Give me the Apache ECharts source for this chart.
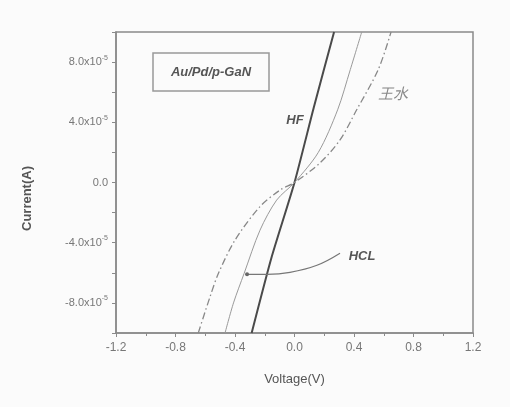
<!DOCTYPE html>
<html>
<head>
<meta charset="utf-8">
<script src="https://cdn.jsdelivr.net/npm/echarts@6/dist/echarts.min.js"></script>
<style>
html,body{margin:0;padding:0;background:#fbfbfb;}
#c{width:510px;height:407px;}
</style>
</head>
<body>
<div id="c"></div>
<script>
// Data (voltage in V, current in A)
const hfCurrent   = [-1.0e-4, -0.5e-4, 0, 0.5e-4, 1.0e-4];
const hfVoltage   = [-0.288, -0.155, 0, 0.13, 0.266];
const hclCurrent  = [-1.0e-4, -0.8e-4, -0.605e-4, -0.317e-4, -0.117e-4, 0, 0.2e-4, 0.483e-4, 0.75e-4, 1.0e-4];
const hclVoltage  = [-0.467, -0.41, -0.339, -0.232, -0.12, 0, 0.16, 0.29, 0.375, 0.452];
const wsCurrent   = [-1.0e-4, -0.76e-4, -0.605e-4, -0.383e-4, -0.16e-4, -0.05e-4, 0, 0.13e-4, 0.283e-4, 0.483e-4, 0.75e-4, 1.0e-4];
const wsVoltage   = [-0.647, -0.568, -0.512, -0.40, -0.232, -0.097, 0, 0.171, 0.306, 0.418, 0.563, 0.649];
const arrowCurrent = [-0.47e-4, -0.55e-4, -0.597e-4, -0.61e-4, -0.61e-4];
const arrowVoltage = [0.306, 0.151, -0.03, -0.185, -0.319];
const xTicks = [-1.2, -0.8, -0.4, 0.0, 0.4, 0.8, 1.2];
const yTickLabels = {'-8': '-8.0x10', '-4': '-4.0x10', '0': '0.0', '4': '4.0x10', '8': '8.0x10'};

const pairs = (xs, ys) => xs.map((x, i) => [x, ys[i]]);
const FONT = 'Liberation Sans';

const chart = echarts.init(document.getElementById('c'));
chart.setOption({
  backgroundColor: '#fbfbfb',
  animation: false,
  grid: {left: 116, right: 37, top: 32, bottom: 74, show: true, borderColor: '#8a8a8a', borderWidth: 1.5, backgroundColor: 'transparent'},
  xAxis: {
    type: 'value', min: -1.2, max: 1.2, interval: 0.4,
    name: 'Voltage(V)', nameLocation: 'middle', nameGap: 40,
    nameTextStyle: {fontFamily: FONT, fontSize: 13, color: '#555'},
    axisLine: {onZero: false, lineStyle: {color: '#8a8a8a', width: 1.5}},
    axisTick: {show: true, inside: false, length: 4, lineStyle: {color: '#8a8a8a'}},
    minorTick: {show: true, splitNumber: 2, length: 3, lineStyle: {color: '#8a8a8a'}},
    splitLine: {show: false},
    axisLabel: {fontFamily: FONT, fontSize: 12, color: '#777', margin: 9,
      formatter: v => { const t = xTicks.find(k => Math.abs(k - v) < 1e-6); return t === undefined ? '' : t.toFixed(1); }}
  },
  yAxis: {
    type: 'value', min: -1.0e-4, max: 1.0e-4, interval: 2e-5,
    name: 'Current(A)', nameLocation: 'middle', nameGap: 82,
    nameTextStyle: {fontFamily: FONT, fontSize: 13, fontWeight: 'bold', color: '#555', padding: [0, 32, 0, 0]},
    axisLine: {onZero: false, lineStyle: {color: '#8a8a8a', width: 1.5}},
    axisTick: {show: true, inside: false, length: 4, lineStyle: {color: '#8a8a8a'}},
    splitLine: {show: false},
    axisLabel: {fontFamily: FONT, fontSize: 11, color: '#777', margin: 8,
      formatter: v => {
        const k = String(Math.round(v / 1e-5));
        if (!(k in yTickLabels)) return '';
        if (k === '0') return '{b|0.0}';
        return '{b|' + yTickLabels[k] + '}{s|-5}';
      },
      rich: {
        b: {fontFamily: FONT, fontSize: 11, color: '#777'},
        s: {fontFamily: FONT, fontSize: 7, color: '#777', padding: [0, 0, 9, 0]}
      }
    }
  },
  series: [
    {name: 'HF', type: 'line', data: pairs(hfVoltage, hfCurrent), smooth: 0.2, showSymbol: false,
     lineStyle: {color: '#4a4a4a', width: 2}},
    {name: 'HCL', type: 'line', data: pairs(hclVoltage, hclCurrent), smooth: 0.3, showSymbol: false,
     lineStyle: {color: '#999', width: 1}},
    {name: '王水', type: 'line', data: pairs(wsVoltage, wsCurrent), smooth: 0.3, showSymbol: false,
     lineStyle: {color: '#888', width: 1.3, type: [7, 3, 1.5, 3]}},
    {name: 'arrow', type: 'line', data: pairs(arrowVoltage, arrowCurrent), smooth: 0.4,
     showSymbol: true, symbol: 'circle',
     symbolSize: (v, p) => p.dataIndex === arrowVoltage.length - 1 ? 4 : 0,
     itemStyle: {color: '#666'},
     lineStyle: {color: '#777', width: 1.2}}
  ],
  graphic: [
    {type: 'rect', shape: {x: 153, y: 53, width: 116, height: 38}, style: {fill: 'transparent', stroke: '#999', lineWidth: 1.5}},
    {type: 'text', x: 211, y: 72, style: {text: 'Au/Pd/p-GaN', fontFamily: FONT, fontSize: 13, fontWeight: 'bold', fontStyle: 'italic', fill: '#555', align: 'center', verticalAlign: 'middle'}},
    {type: 'text', x: 295, y: 120, style: {text: 'HF', fontFamily: FONT, fontSize: 13, fontWeight: 'bold', fontStyle: 'italic', fill: '#555', align: 'center', verticalAlign: 'middle'}},
    {type: 'text', x: 393, y: 93, style: {text: '王水', fontFamily: 'Noto Sans CJK SC', fontSize: 15, fontStyle: 'italic', fill: '#888', align: 'center', verticalAlign: 'middle'}},
    {type: 'text', x: 362, y: 256, style: {text: 'HCL', fontFamily: FONT, fontSize: 13, fontWeight: 'bold', fontStyle: 'italic', fill: '#555', align: 'center', verticalAlign: 'middle'}}
  ]
});
</script>
</body>
</html>
